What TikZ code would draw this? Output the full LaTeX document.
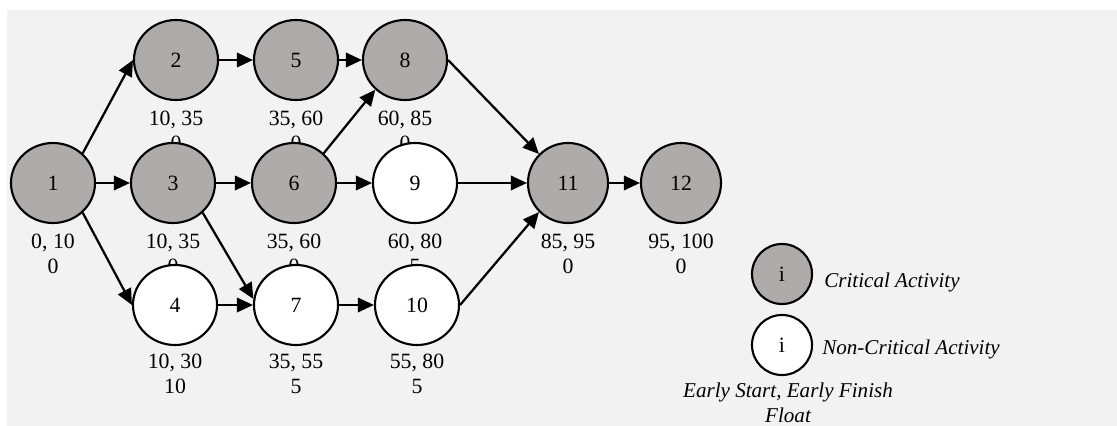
\documentclass[tikz,border=0pt]{standalone}
\usepackage{fontspec}
\setmainfont{Liberation Serif}
\usetikzlibrary{shapes.geometric,arrows.meta,positioning,backgrounds}
\usepackage{xcolor}
\definecolor{critgray}{HTML}{AEABAA}
\definecolor{panelgray}{HTML}{F2F2F2}

\begin{document}
\begin{tikzpicture}[
    x=0.025cm, y=-0.025cm,
    crit/.style={draw, ellipse, line width=1.5pt, fill=critgray, minimum width=2.1cm, minimum height=2cm, inner sep=0pt, font=\fontsize{15.5}{17.7}\selectfont},
    noncrit/.style={crit, fill=white},
    times/.style={align=center, inner sep=0pt, font=\fontsize{15.5}{17.7}\selectfont},
    note/.style={align=center, inner sep=0pt, font=\fontsize{15}{17.7}\selectfont\itshape},
    act/.style={-{Triangle[length=0.4cm,width=0.36cm]}, line width=1.6pt}
]
    \useasboundingbox (0,0) rectangle (1117,426);

    \node[crit] (n1) at (53,183) {1};
    \node[crit] (n2) at (176,60) {2};
    \node[crit] (n3) at (173,183) {3};
    \node[noncrit] (n4) at (175,305) {4};
    \node[crit] (n5) at (296,60) {5};
    \node[crit] (n6) at (294,183) {6};
    \node[noncrit] (n7) at (296,305) {7};
    \node[crit] (n8) at (405,60) {8};
    \node[noncrit] (n9) at (415,183) {9};
    \node[noncrit] (n10) at (417,305) {10};
    \node[crit, minimum width=2cm] (n11) at (568,183) {11};
    \node[crit, minimum width=2cm] (n12) at (681,183) {12};

    \draw[act] (n1.45) -- (n2.west);
    \draw[act] (n1.east) -- (n3.west);
    \draw[act] (n1.-45) -- (n4.west);
    \draw[act] (n2.east) -- (n5.west);
    \draw[act] (n5.east) -- (n8.west);
    \draw[act] (n3.east) -- (n6.west);
    \draw[act] (n3.-45) -- (n7.172);
    \draw[act] (n6.45) -- (n8.225);
    \draw[act] (n6.east) -- (n9.west);
    \draw[act] (n4.east) -- (n7.west);
    \draw[act] (n7.east) -- (n10.west);
    \draw[act] (n8.east) -- (n11.135);
    \draw[act] (n9.east) -- (n11.west);
    \draw[act] (n10.east) -- (n11.225);
    \draw[act] (n11.east) -- (n12.west);

    \begin{scope}[on background layer]
        \fill[panelgray] (7,10) rectangle (1117,426);
        \node[times, below=0.25cm of n1] (t1) {0, 10\\0};
        \node[times, below=0.25cm of n2] (t2) {10, 35\\0};
        \node[times, below=0.25cm of n3] (t3) {10, 35\\0};
        \node[times, below=0.2cm of n4] (t4) {10, 30\\10};
        \node[times, below=0.25cm of n5] (t5) {35, 60\\0};
        \node[times, below=0.25cm of n6] (t6) {35, 60\\0};
        \node[times, below=0.2cm of n7] (t7) {35, 55\\5};
        \node[times, below=0.25cm of n8] (t8) {60, 85\\0};
        \node[times, below=0.25cm of n9] (t9) {60, 80\\5};
        \node[times, below=0.2cm of n10] (t10) {55, 80\\5};
        \node[times, below=0.25cm of n11] (t11) {85, 95\\0};
        \node[times, below=0.25cm of n12] (t12) {95, 100\\0};
    \end{scope}

    \node[crit, minimum width=1.5cm, minimum height=1.5cm] (lg1) at (782,274) {i};
    \node[noncrit, minimum width=1.5cm, minimum height=1.5cm] (lg2) at (782,345) {i};
    \node[note, anchor=west] (lgcrit) at (824,282) {Critical Activity};
    \node[note, anchor=west] (lgnon) at (822,349) {Non-Critical Activity};
    \node[note, anchor=north] (lgtimes) at (788,383) {Early Start, Early Finish\\Float};
\end{tikzpicture}
\end{document}
